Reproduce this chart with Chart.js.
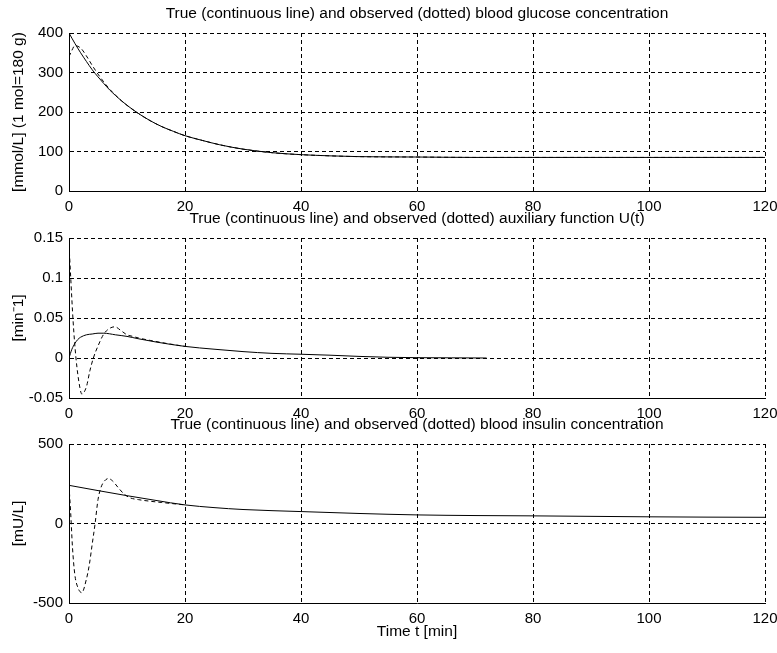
<!DOCTYPE html>
<html>
<head>
<meta charset="utf-8">
<script src="https://cdn.jsdelivr.net/npm/chart.js@4.4.1/dist/chart.umd.min.js"></script>
<style>
    html, body { margin: 0; padding: 0; background: #fff; }
    #wrap { position: relative; width: 777px; height: 653px; }
    #wrap canvas { position: absolute; left: 0; top: 0; }
</style>
</head>
<body>
<div id="wrap">
    <canvas id="glucoseChart" width="777" height="653"></canvas>
    <canvas id="uChart" width="777" height="653"></canvas>
    <canvas id="insulinChart" width="777" height="653"></canvas>
</div>
<script>
// x axis ticks (minutes)
const timeTicks = [0, 20, 40, 60, 80, 100, 120];

// glucose [mmol/L]
const glucoseTime = [0, 1, 2, 3, 4, 5, 6, 7, 8, 9, 10, 12, 14, 16, 18, 20, 23, 26, 30, 35, 40, 45, 50, 60, 70, 80, 90, 100, 110, 120];
const glucoseTrue = [400, 374, 350, 328, 307, 289, 272, 256, 242, 229, 217, 196, 178, 163, 151, 140, 128, 117, 106, 97, 92, 89, 87, 86, 85, 85, 85, 85, 85, 85];
const glucoseObsTime = [0, 0.5, 1, 2, 3, 4, 5, 6, 7, 8, 9, 10, 12, 14, 16, 18, 20, 23, 26, 30, 35, 40, 45, 50, 60, 70, 80, 90, 100, 110, 120];
const glucoseObs = [340, 356, 368, 362, 342, 318, 296, 276, 258, 243, 229, 217, 196, 178, 163, 151, 140, 128, 117, 106, 97, 92, 89, 87, 86, 85, 85, 85, 85, 85, 85];
const glucoseTicks = [0, 100, 200, 300, 400];

// auxiliary function U(t) [1/min]
const uTime = [0, 0.5, 1, 1.5, 2, 3, 4, 5, 6, 8, 10, 12, 15, 20, 25, 30, 35, 40, 45, 50, 55, 60, 66, 72];
const uTrue = [0, 0.011, 0.018, 0.023, 0.026, 0.029, 0.030, 0.031, 0.031, 0.029, 0.027, 0.024, 0.020, 0.0145, 0.011, 0.008, 0.0058, 0.0047, 0.0035, 0.002, 0.0009, 0.0004, 0.0002, 0];
const uObsTime = [0, 0.3, 0.7, 1.2, 1.9, 2.2, 3, 3.6, 4.2, 5, 6, 7, 7.9, 9, 10, 11, 12, 14, 17, 20];
const uObs = [0.142, 0.10, 0.047, 0, -0.038, -0.045, -0.036, -0.016, 0, 0.015, 0.030, 0.037, 0.039, 0.034, 0.029, 0.027, 0.025, 0.022, 0.018, 0.0145];
const uTicks = [-0.05, 0, 0.05, 0.1, 0.15];

// insulin [mU/L]
const insulinTime = [0, 5, 10, 15, 20, 25, 30, 40, 50, 60, 70, 80, 90, 100, 110, 120];
const insulinTrue = [240, 207, 175, 145, 117, 100, 88, 75, 63, 54, 50, 48, 45, 42, 40, 39];
const insulinObsTime = [0, 0.3, 0.6, 1, 1.5, 2.2, 3, 3.5, 4, 4.5, 5, 5.5, 6, 6.8, 7.5, 8.5, 9.5, 10.5, 12, 14, 16, 20];
const insulinObs = [240, 60, -150, -320, -400, -435, -350, -260, -130, 0, 150, 225, 262, 283, 268, 225, 185, 162, 150, 140, 132, 117];
const insulinTicks = [-500, 0, 500];

Chart.defaults.color = '#000';
Chart.defaults.font.family = "'Liberation Sans', Arial, sans-serif";
Chart.defaults.font.size = 15;

const PLOT_LEFT = 69;
const PLOT_RIGHT = 765;
const Y_AXIS_W = 55;
const X_AXIS_H = 25;

const panelText = {
    id: 'panelText',
    afterDraw(chart, args, opts) {
        const { ctx, chartArea: a } = chart;
        const cx = (a.left + a.right) / 2;
        ctx.save();
        ctx.fillStyle = '#000';
        ctx.font = "15.5px 'Liberation Sans', Arial, sans-serif";
        ctx.textAlign = 'center';
        ctx.textBaseline = 'middle';
        ctx.fillText(opts.title, cx, a.top - 19);
        if (opts.xLabel) ctx.fillText(opts.xLabel, cx, a.bottom + 29);
        ctx.translate(19, (a.top + a.bottom) / 2);
        ctx.rotate(-Math.PI / 2);
        ctx.fillText(opts.yLabel, 0, 0);
        ctx.restore();
    }
};

function pts(xs, ys) {
    return xs.map((x, i) => ({ x: x, y: ys[i] }));
}

function makePanel(id, top, bottom, trueX, trueY, obsX, obsY, yTicks, text) {
    const ctx = document.getElementById(id).getContext('2d');
    return new Chart(ctx, {
        type: 'line',
        data: {
            datasets: [{
                label: 'observed',
                data: pts(obsX, obsY),
                borderColor: '#000',
                borderWidth: 1,
                borderDash: [4, 3],
                cubicInterpolationMode: 'monotone',
                pointRadius: 0,
                fill: false
            }, {
                label: 'true',
                data: pts(trueX, trueY),
                borderColor: '#000',
                borderWidth: 1,
                cubicInterpolationMode: 'monotone',
                pointRadius: 0,
                fill: false
            }]
        },
        options: {
            responsive: false,
            animation: false,
            events: [],
            layout: {
                padding: {
                    left: PLOT_LEFT - Y_AXIS_W,
                    right: 777 - PLOT_RIGHT,
                    top: top,
                    bottom: 653 - bottom - X_AXIS_H
                }
            },
            plugins: {
                legend: { display: false },
                tooltip: { enabled: false },
                panelText: text
            },
            scales: {
                x: {
                    type: 'linear',
                    min: timeTicks[0],
                    max: timeTicks[timeTicks.length - 1],
                    afterBuildTicks: (s) => { s.ticks = timeTicks.map(v => ({ value: v })); },
                    afterFit: (s) => { s.height = X_AXIS_H; s.paddingLeft = 0; s.paddingRight = 0; },
                    ticks: { padding: 7, maxRotation: 0, autoSkip: false },
                    grid: { color: '#000', lineWidth: 1, drawTicks: false },
                    border: { display: true, color: '#000', width: 1, dash: [4, 3] }
                },
                y: {
                    type: 'linear',
                    min: yTicks[0],
                    max: yTicks[yTicks.length - 1],
                    afterBuildTicks: (s) => { s.ticks = yTicks.map(v => ({ value: v })); },
                    afterFit: (s) => { s.width = Y_AXIS_W; s.paddingTop = 0; s.paddingBottom = 0; },
                    ticks: { padding: 6, autoSkip: false, callback: (v) => String(v) },
                    grid: { color: '#000', lineWidth: 1, drawTicks: false },
                    border: { display: true, color: '#000', width: 1, dash: [4, 3] }
                }
            }
        },
        plugins: [panelText]
    });
}

makePanel('glucoseChart', 33, 191, glucoseTime, glucoseTrue, glucoseObsTime, glucoseObs, glucoseTicks, {
    title: 'True (continuous line) and observed (dotted) blood glucose concentration',
    yLabel: '[mmol/L] (1 mol=180 g)'
});

makePanel('uChart', 238, 398, uTime, uTrue, uObsTime, uObs, uTicks, {
    title: 'True (continuous line) and observed (dotted) auxiliary function U(t)',
    yLabel: '[min\u207B1]'
});

makePanel('insulinChart', 444, 603, insulinTime, insulinTrue, insulinObsTime, insulinObs, insulinTicks, {
    title: 'True (continuous line) and observed (dotted) blood insulin concentration',
    yLabel: '[mU/L]',
    xLabel: 'Time t [min]'
});
</script>
</body>
</html>
